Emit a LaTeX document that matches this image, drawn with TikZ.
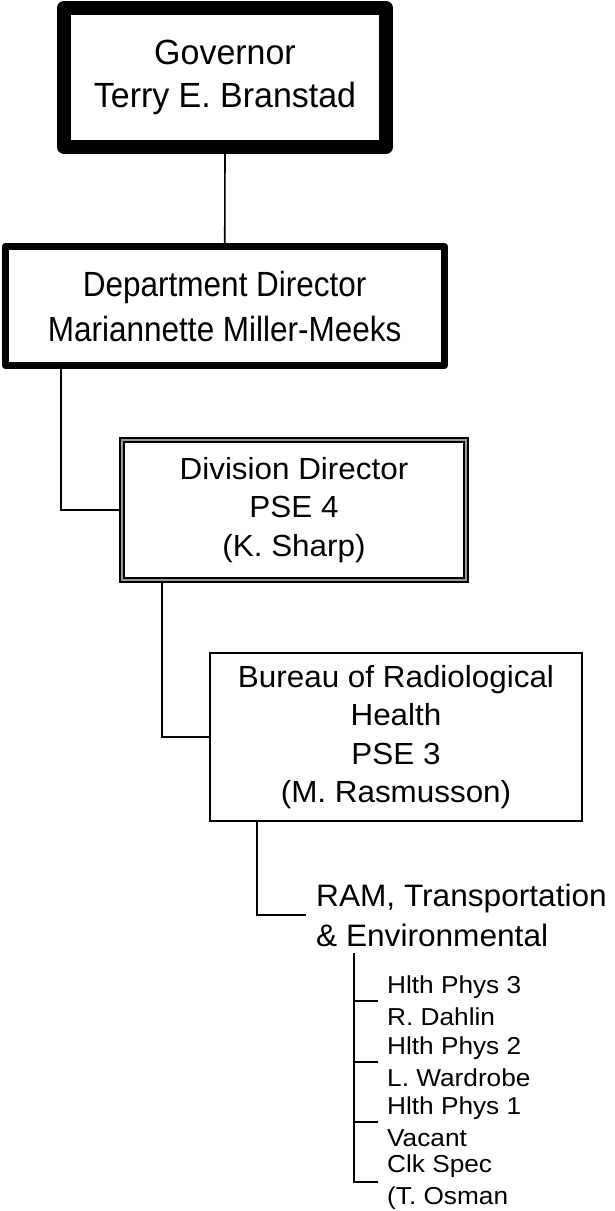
\documentclass[tikz,border=0pt]{standalone}
\usepackage{fontspec}
\setmainfont{Liberation Sans}
\newfontfamily\govfont[FakeStretch=0.97]{Liberation Sans}
\newfontfamily\narrowfont[FakeStretch=0.9]{Liberation Sans}
\newfontfamily\midfont[FakeStretch=1.03]{Liberation Sans}
\newfontfamily\ramfont[FakeStretch=1.02]{Liberation Sans}
\newfontfamily\smallfont[FakeStretch=1.07]{Liberation Sans}
\begin{document}
\begin{tikzpicture}[x=1pt,y=-1pt,
  conn/.style={line width=1.6pt, line join=miter},
  bigbox/.style={draw, align=center, inner sep=0pt, line join=round},
  leaf/.style={align=left, inner ysep=0pt, inner xsep=9pt, anchor=west}]
\useasboundingbox (0,0) rectangle (614,1211);
\node[bigbox, line width=14pt, minimum width=322pt, minimum height=139pt,
  font=\govfont\fontsize{35}{43}\selectfont] (gov) at (225,77.5) {Governor\\Terry E. Branstad};
\node[bigbox, line width=7pt, minimum width=439.5pt, minimum height=119pt,
  font=\narrowfont\fontsize{35}{45}\selectfont] (dept) at (224.75,306) {Department Director\\Mariannette Miller-Meeks};
\node[bigbox, line width=1.8pt, double=black!40, double distance=2.4pt, line join=miter,
  minimum width=344pt, minimum height=140pt,
  font=\midfont\fontsize{30.5}{38.5}\selectfont] (div) at (294,510) {Division Director\\PSE 4\\(K. Sharp)};
\node[bigbox, line width=1.6pt, line join=miter, minimum width=372pt, minimum height=168pt,
  font=\midfont\fontsize{30.5}{38.5}\selectfont] (bur) at (396,737) {Bureau of Radiological\\Health\\PSE 3\\(M. Rasmusson)};
\node[align=left, anchor=west, inner xsep=10pt, inner ysep=0pt,
  font=\ramfont\fontsize{31}{40}\selectfont] (ram) at (306,915) {RAM, Transportation\\\& Environmental};
\begin{scope}[font=\smallfont\fontsize{24.5}{32}\selectfont]
\node[leaf] (p1) at (378,1001) {Hlth Phys 3\\R. Dahlin};
\node[leaf] (p2) at (378,1062) {Hlth Phys 2\\L. Wardrobe};
\node[leaf] (p3) at (378,1122) {Hlth Phys 1\\Vacant};
\node[leaf] (p4) at (378,1182) {Clk Spec\\(T. Osman};
\end{scope}
\coordinate (c1) at (61,0);
\coordinate (c2) at (162,0);
\coordinate (c3) at (257,0);
\coordinate (ramtop) at (354,953);
\draw[conn] (gov.south) -- (dept.north);
\draw[conn] (dept.south -| c1) |- (div.west);
\draw[conn] (div.south -| c2) |- (bur.west);
\draw[conn] (bur.south -| c3) |- (ram.west);
\draw[conn] (ramtop) |- (p1.west);
\draw[conn] (ramtop) |- (p2.west);
\draw[conn] (ramtop) |- (p3.west);
\draw[conn] (ramtop) |- (p4.west);
\end{tikzpicture}
\end{document}
